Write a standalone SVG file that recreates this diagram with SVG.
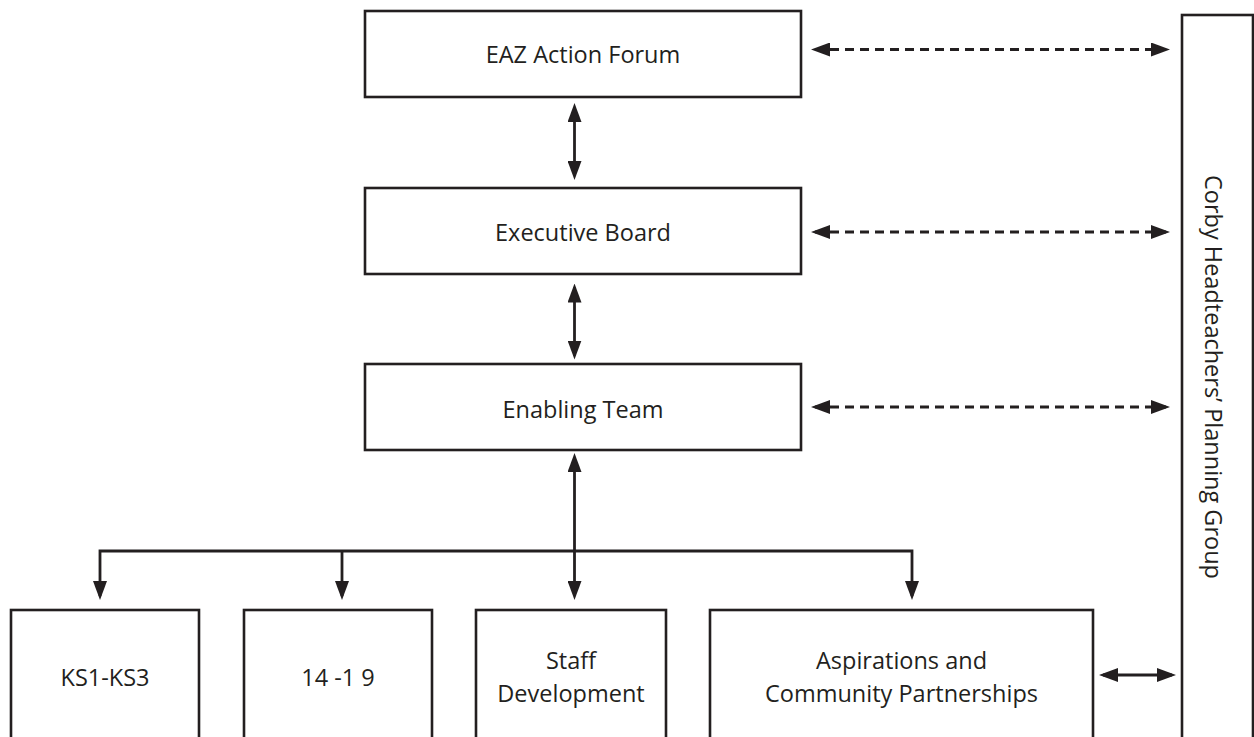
<svg xmlns="http://www.w3.org/2000/svg" width="1254" height="737" viewBox="0 0 1254 737">
  <style>
    .box { fill: #ffffff; stroke: #231f20; stroke-width: 2.6; }
    .lbl { font-family: "Open Sans", "Liberation Sans", sans-serif; font-size: 23.5px; fill: #231f20; text-anchor: middle; }
    .con { fill: none; stroke: #231f20; stroke-width: 2.8; }
    .dash { stroke-dasharray: 9 6; }
  </style>
  <defs>
    <marker id="ah" viewBox="0 0 19 14" markerUnits="userSpaceOnUse" markerWidth="19" markerHeight="14" refX="15" refY="7" orient="auto-start-reverse">
      <path d="M0,0 L19,7 L0,14 Z" fill="#231f20"/>
    </marker>
  </defs>
  <rect width="1254" height="737" fill="#ffffff"/>

  <g id="connectors">
    <line class="con dash" x1="815" y1="49.5" x2="1166" y2="49.5" marker-start="url(#ah)" marker-end="url(#ah)"/>
    <line class="con dash" x1="815" y1="232" x2="1166" y2="232" marker-start="url(#ah)" marker-end="url(#ah)"/>
    <line class="con dash" x1="815" y1="407" x2="1166" y2="407" marker-start="url(#ah)" marker-end="url(#ah)"/>
    <line class="con" x1="574.5" y1="107" x2="574.5" y2="176" marker-start="url(#ah)" marker-end="url(#ah)"/>
    <line class="con" x1="574.5" y1="287.5" x2="574.5" y2="355.5" marker-start="url(#ah)" marker-end="url(#ah)"/>
    <line class="con" x1="574.5" y1="457" x2="574.5" y2="596" marker-start="url(#ah)" marker-end="url(#ah)"/>
    <path class="con" d="M100,596 V551 H912 V596" marker-start="url(#ah)" marker-end="url(#ah)"/>
    <line class="con" x1="342" y1="551" x2="342" y2="596" marker-end="url(#ah)"/>
    <line class="con" x1="1103" y1="675" x2="1172" y2="675" marker-start="url(#ah)" marker-end="url(#ah)"/>
  </g>

  <g id="eaz-action-forum">
    <rect class="box" x="365" y="11" width="436" height="86"/>
    <text class="lbl" x="583" y="63">EAZ Action Forum</text>
  </g>
  <g id="executive-board">
    <rect class="box" x="365" y="188" width="436" height="86"/>
    <text class="lbl" x="583" y="240.5">Executive Board</text>
  </g>
  <g id="enabling-team">
    <rect class="box" x="365" y="364" width="436" height="86"/>
    <text class="lbl" x="583" y="418">Enabling Team</text>
  </g>
  <g id="corby-planning-group">
    <rect class="box" x="1182" y="15" width="71" height="740"/>
    <text class="lbl" transform="translate(1205,377) rotate(90)" x="0" y="0">Corby Headteachers’ Planning Group</text>
  </g>
  <g id="ks1-ks3">
    <rect class="box" x="11" y="610" width="188" height="140"/>
    <text class="lbl" x="105" y="686">KS1-KS3</text>
  </g>
  <g id="fourteen-nineteen">
    <rect class="box" x="244" y="610" width="188" height="140"/>
    <text class="lbl" x="338" y="686">14 -1 9</text>
  </g>
  <g id="staff-development">
    <rect class="box" x="476" y="610" width="190" height="140"/>
    <text class="lbl" x="571" y="669">Staff</text>
    <text class="lbl" x="571" y="701.5">Development</text>
  </g>
  <g id="aspirations">
    <rect class="box" x="710" y="610" width="383" height="140"/>
    <text class="lbl" x="901.5" y="669">Aspirations and</text>
    <text class="lbl" x="901.5" y="701.5">Community Partnerships</text>
  </g>
</svg>
